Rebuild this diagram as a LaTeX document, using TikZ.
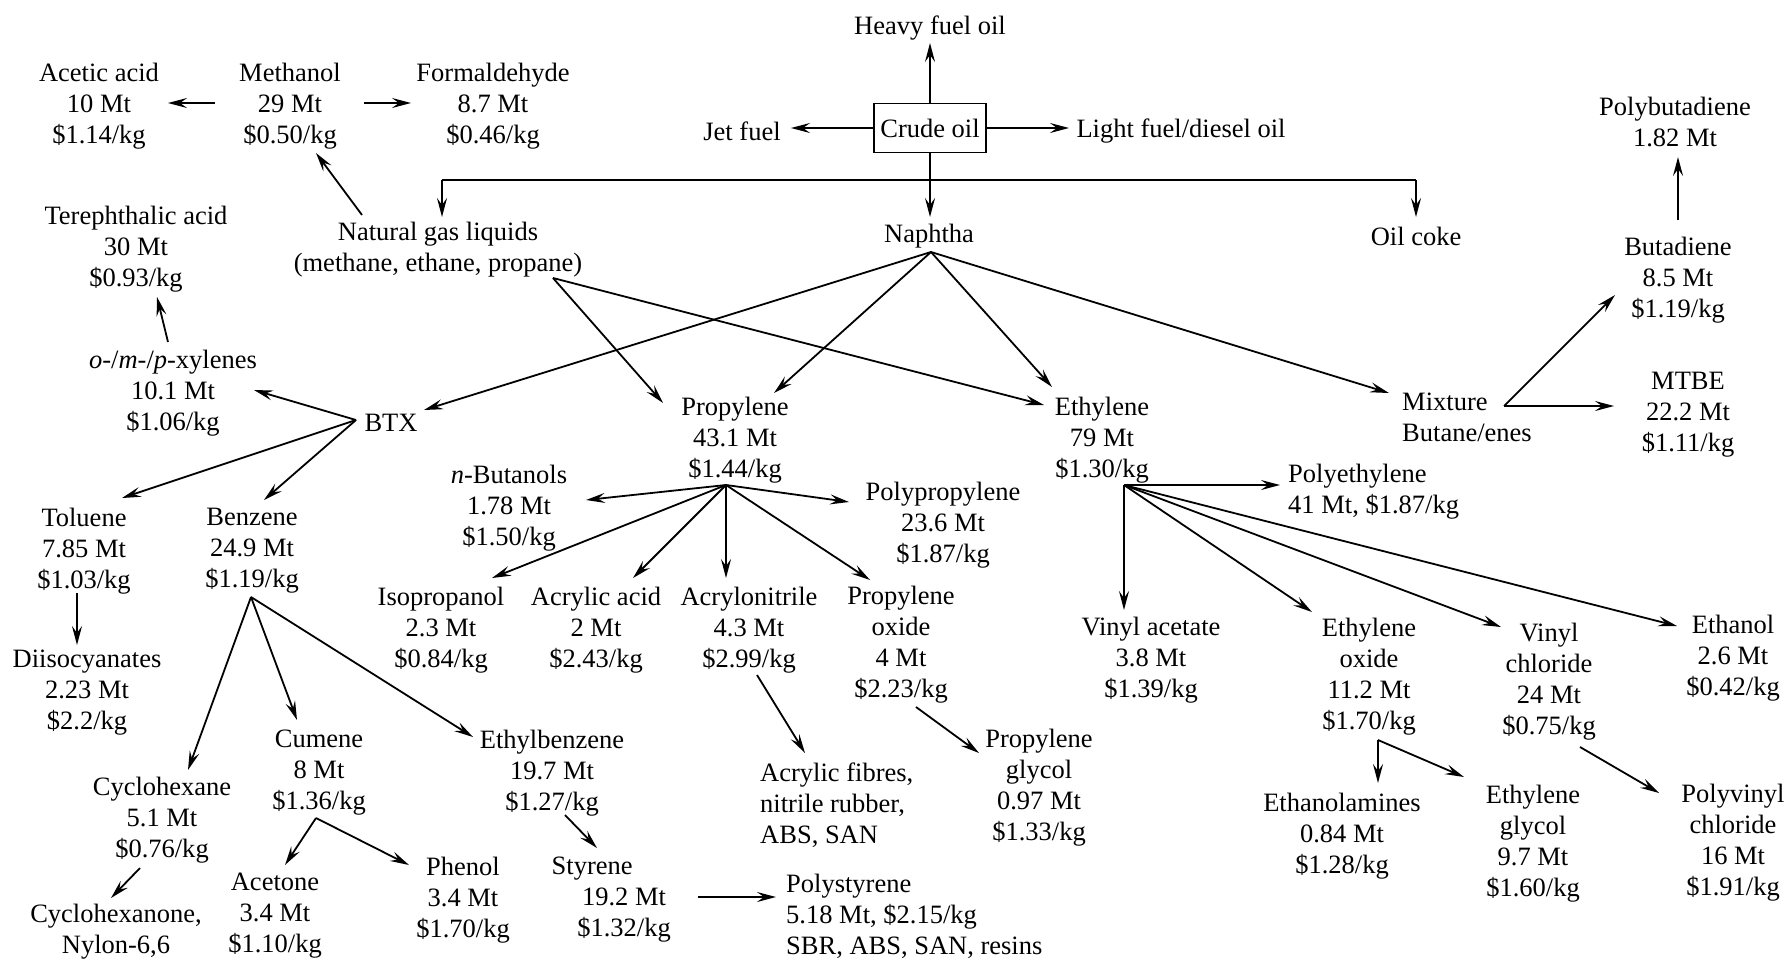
\documentclass[tikz,border=0pt]{standalone}
\usepackage{fontspec}
\setmainfont{Liberation Serif}
\usetikzlibrary{arrows.meta}
\begin{document}
\begin{tikzpicture}[x=1pt,y=-1pt,
  txt/.style={font=\fontsize{26.5}{31}\selectfont, align=center, inner sep=0pt},
  ltxt/.style={txt, align=left, anchor=west},
  arr/.style={-{Stealth[length=19pt,width=10pt,inset=7pt]}, line width=1.8pt},
  ln/.style={line width=1.8pt}]
\useasboundingbox (0,0) rectangle (1787,962);
% ---------- nodes ----------
\node[txt] (heavy) at (930,28) {Heavy fuel oil};
\node[txt, draw, line width=1.8pt, minimum width=112pt, minimum height=49pt] (crude) at (930,128) {Crude oil};
\node[txt] (jet) at (742,131) {Jet fuel};
\node[txt] (light) at (1181,131) {Light fuel/diesel oil};
\node[txt] (acetic) at (99,106) {Acetic acid\\10 Mt\\\$1.14/kg};
\node[txt] (methanol) at (290,106) {Methanol\\29 Mt\\\$0.50/kg};
\node[txt] (formal) at (493,106) {Formaldehyde\\8.7 Mt\\\$0.46/kg};
\node[txt] (ngl) at (438,250) {Natural gas liquids\\(methane, ethane, propane)};
\node[txt] (naphtha) at (929,236) {Naphtha};
\node[txt] (oilcoke) at (1416,236) {Oil coke};
\node[txt] (polybut) at (1675,122) {Polybutadiene\\1.82 Mt};
\node[txt] (butadiene) at (1678,280) {Butadiene\\8.5 Mt\\\$1.19/kg};
\node[txt] (tereph) at (136,249) {Terephthalic acid\\30 Mt\\\$0.93/kg};
\node[txt] (xyl) at (173,393) {\textit{o}-/\textit{m}-/\textit{p}-xylenes\\10.1 Mt\\\$1.06/kg};
\node[txt] (btx) at (391,423) {BTX};
\node[txt] (propylene) at (735,440) {Propylene\\43.1 Mt\\\$1.44/kg};
\node[txt] (ethylene) at (1102,440) {Ethylene\\79 Mt\\\$1.30/kg};
\node[ltxt] (mixture) at (1402,417) {Mixture\\Butane/enes};
\node[txt] (mtbe) at (1688,415) {MTBE\\22.2 Mt\\\$1.11/kg};
\node[ltxt] (polyeth) at (1288,492) {Polyethylene\\41 Mt, \$1.87/kg};
\node[txt] (nbut) at (509,508) {\textit{n}-Butanols\\1.78 Mt\\\$1.50/kg};
\node[txt] (polyprop) at (943,525) {Polypropylene\\23.6 Mt\\\$1.87/kg};
\node[txt] (toluene) at (84,551) {Toluene\\7.85 Mt\\\$1.03/kg};
\node[txt] (benzene) at (252,551) {Benzene\\24.9 Mt\\\$1.19/kg};
\node[txt] (isoprop) at (441,630) {Isopropanol\\2.3 Mt\\\$0.84/kg};
\node[txt] (acrylic) at (596,630) {Acrylic acid\\2 Mt\\\$2.43/kg};
\node[txt] (acn) at (749,630) {Acrylonitrile\\4.3 Mt\\\$2.99/kg};
\node[txt] (propox) at (901,645) {Propylene\\oxide\\4 Mt\\\$2.23/kg};
\node[txt] (vinylac) at (1151,660) {Vinyl acetate\\3.8 Mt\\\$1.39/kg};
\node[txt] (ethox) at (1369,677) {Ethylene\\oxide\\11.2 Mt\\\$1.70/kg};
\node[txt] (vinylchl) at (1549,682) {Vinyl\\chloride\\24 Mt\\\$0.75/kg};
\node[txt] (ethanol) at (1733,658) {Ethanol\\2.6 Mt\\\$0.42/kg};
\node[txt] (diiso) at (87,693) {Diisocyanates\\2.23 Mt\\\$2.2/kg};
\node[txt] (cyclohex) at (162,820) {Cyclohexane\\5.1 Mt\\\$0.76/kg};
\node[txt] (cyclone) at (116,932) {Cyclohexanone,\\Nylon-6,6};
\node[txt] (cumene) at (319,773) {Cumene\\8 Mt\\\$1.36/kg};
\node[txt] (acetone) at (275,916) {Acetone\\3.4 Mt\\\$1.10/kg};
\node[txt] (phenol) at (463,900) {Phenol\\3.4 Mt\\\$1.70/kg};
\node[txt] (ethylbenz) at (552,773) {Ethylbenzene\\19.7 Mt\\\$1.27/kg};
\node[txt] (styrene) at (624,900) {Styrene\hspace*{2.4em}\\19.2 Mt\\\$1.32/kg};
\node[ltxt] (polysty) at (786,916) {Polystyrene\\5.18 Mt, \$2.15/kg\\SBR, ABS, SAN, resins};
\node[ltxt] (acrfib) at (760,805) {Acrylic fibres,\\nitrile rubber,\\ABS, SAN};
\node[txt] (propgly) at (1039,788) {Propylene\\glycol\\0.97 Mt\\\$1.33/kg};
\node[txt] (ethanolam) at (1342,836) {Ethanolamines\\0.84 Mt\\\$1.28/kg};
\node[txt] (ethgly) at (1533,844) {Ethylene\\glycol\\9.7 Mt\\\$1.60/kg};
\node[txt] (pvc) at (1733,843) {Polyvinyl\\chloride\\16 Mt\\\$1.91/kg};
% ---------- coordinates ----------
\coordinate (tHeavy) at (930,43);
\coordinate (tJet) at (791,128);
\coordinate (tLight) at (1069,128);
\coordinate (tNaph) at (930,217);
\coordinate (jL) at (442,180);
\coordinate (jR) at (1416,180);
\coordinate (tNgl) at (442,217);
\coordinate (tCoke) at (1416,217);
\coordinate (mL) at (215,103);
\coordinate (mR) at (364,103);
\coordinate (tAcetic) at (168,103);
\coordinate (tFormal) at (411,103);
\coordinate (sNglM) at (362,215);
\coordinate (tMeth) at (316,153);
\coordinate (sNgl) at (553,278);
\coordinate (tProp1) at (663,403);
\coordinate (tEth1) at (1044,405);
\coordinate (sNaph) at (931,252);
\coordinate (tBtx) at (424,410);
\coordinate (tProp2) at (774,393);
\coordinate (tEth2) at (1052,387);
\coordinate (tMix) at (1389,393);
\coordinate (sBtx) at (356,420);
\coordinate (tXyl) at (254,390);
\coordinate (tTol) at (122,498);
\coordinate (tBenz) at (264,500);
\coordinate (sXyl) at (168,342);
\coordinate (tTer) at (157,297);
\coordinate (sTol) at (77,593);
\coordinate (tDiiso) at (77,645);
\coordinate (sBenz) at (251,597);
\coordinate (tCyc) at (188,770);
\coordinate (tCum) at (297,720);
\coordinate (tEb) at (473,737);
\coordinate (sCyc) at (140,868);
\coordinate (tCyclone) at (111,898);
\coordinate (sCum) at (316,818);
\coordinate (tAcet) at (285,865);
\coordinate (tPhen) at (409,865);
\coordinate (sEb) at (565,815);
\coordinate (tSty) at (597,848);
\coordinate (sSty) at (698,897);
\coordinate (tPs) at (776,897);
\coordinate (sProp) at (726,485);
\coordinate (tNbut) at (586,500);
\coordinate (tIso) at (492,578);
\coordinate (tAcr) at (633,578);
\coordinate (tAcn) at (726,578);
\coordinate (tPo) at (870,580);
\coordinate (tPp) at (849,502);
\coordinate (sAcn) at (757,675);
\coordinate (tFib) at (805,753);
\coordinate (sPo) at (916,707);
\coordinate (tPg) at (979,753);
\coordinate (sEth) at (1124,485);
\coordinate (tVa) at (1124,610);
\coordinate (tPe) at (1280,485);
\coordinate (tEo) at (1312,612);
\coordinate (tVc) at (1501,627);
\coordinate (tEtoh) at (1677,626);
\coordinate (sEo) at (1378,740);
\coordinate (tEa) at (1378,783);
\coordinate (tEg) at (1464,777);
\coordinate (sVc) at (1580,747);
\coordinate (tPvc) at (1659,793);
\coordinate (sMix) at (1504,406);
\coordinate (tBut) at (1615,295);
\coordinate (tMtbe) at (1614,406);
\coordinate (sBut) at (1678,220);
\coordinate (tPbut) at (1678,157);
% ---------- connectors ----------
\draw[arr] (crude.north) -- (tHeavy);
\draw[arr] (crude.west) -- (tJet);
\draw[arr] (crude.east) -- (tLight);
\draw[arr] (crude.south) -- (tNaph);
\draw[ln] (jL) -- (jR);
\draw[arr] (jL) -- (tNgl);
\draw[arr] (jR) -- (tCoke);
\draw[arr] (mL) -- (tAcetic);
\draw[arr] (mR) -- (tFormal);
\draw[arr] (sNglM) -- (tMeth);
\draw[arr] (sNgl) -- (tProp1);
\draw[arr] (sNgl) -- (tEth1);
\draw[arr] (sNaph) -- (tBtx);
\draw[arr] (sNaph) -- (tProp2);
\draw[arr] (sNaph) -- (tEth2);
\draw[arr] (sNaph) -- (tMix);
\draw[arr] (sBtx) -- (tXyl);
\draw[arr] (sBtx) -- (tTol);
\draw[arr] (sBtx) -- (tBenz);
\draw[arr] (sXyl) -- (tTer);
\draw[arr] (sTol) -- (tDiiso);
\draw[arr] (sBenz) -- (tCyc);
\draw[arr] (sBenz) -- (tCum);
\draw[arr] (sBenz) -- (tEb);
\draw[arr] (sCyc) -- (tCyclone);
\draw[arr] (sCum) -- (tAcet);
\draw[arr] (sCum) -- (tPhen);
\draw[arr] (sEb) -- (tSty);
\draw[arr] (sSty) -- (tPs);
\draw[arr] (sProp) -- (tNbut);
\draw[arr] (sProp) -- (tIso);
\draw[arr] (sProp) -- (tAcr);
\draw[arr] (sProp) -- (tAcn);
\draw[arr] (sProp) -- (tPo);
\draw[arr] (sProp) -- (tPp);
\draw[arr] (sAcn) -- (tFib);
\draw[arr] (sPo) -- (tPg);
\draw[arr] (sEth) -- (tVa);
\draw[arr] (sEth) -- (tPe);
\draw[arr] (sEth) -- (tEo);
\draw[arr] (sEth) -- (tVc);
\draw[arr] (sEth) -- (tEtoh);
\draw[arr] (sEo) -- (tEa);
\draw[arr] (sEo) -- (tEg);
\draw[arr] (sVc) -- (tPvc);
\draw[arr] (sMix) -- (tBut);
\draw[arr] (sMix) -- (tMtbe);
\draw[arr] (sBut) -- (tPbut);
\end{tikzpicture}
\end{document}
